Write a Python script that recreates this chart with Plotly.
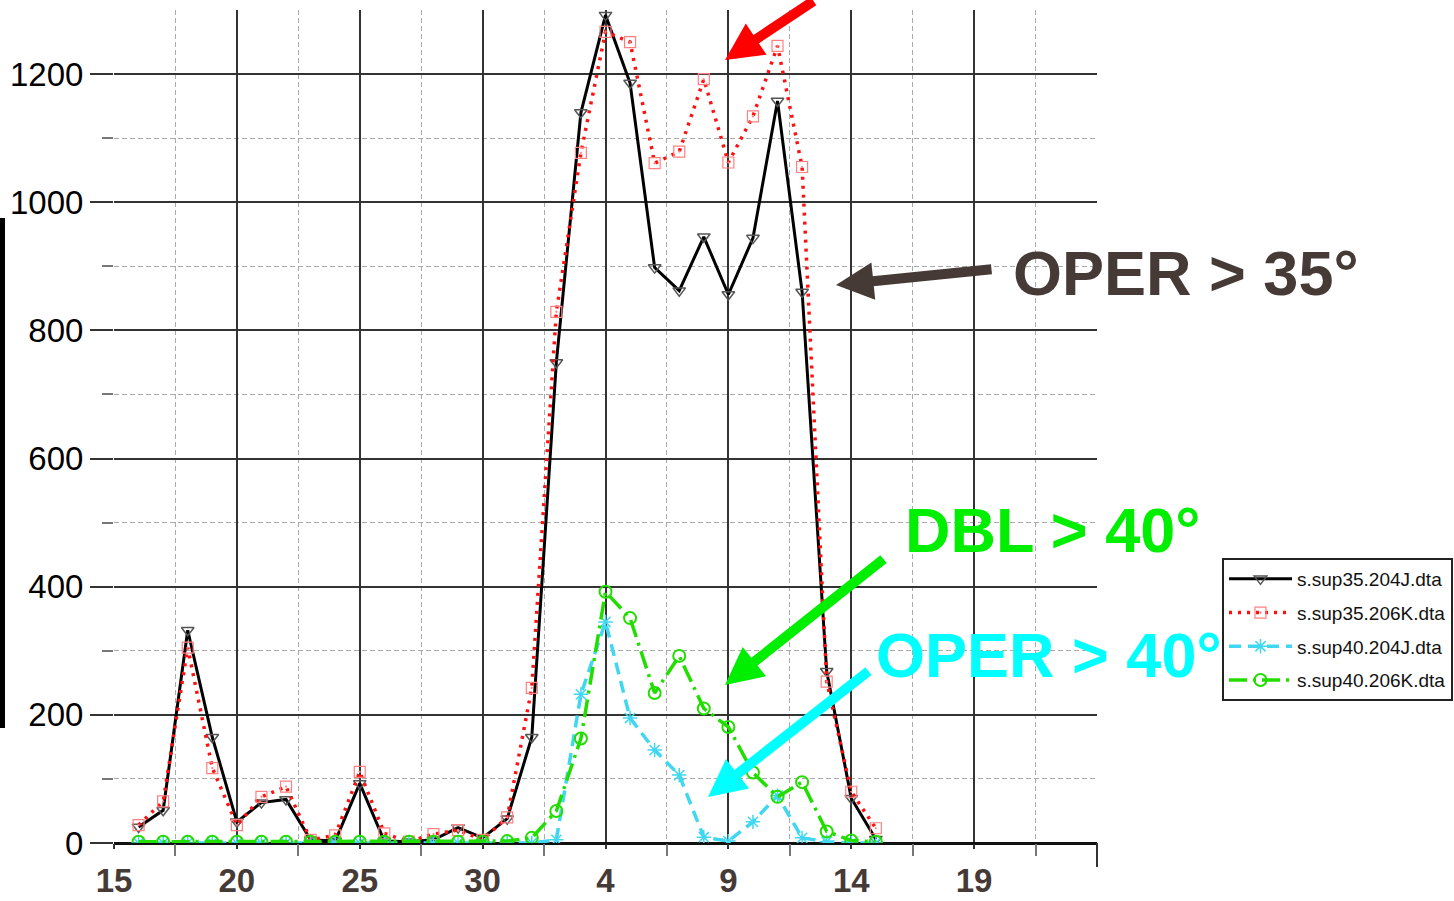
import plotly.graph_objects as go

# ---------------- data ----------------
days = list(range(16, 47))  # continuous day index (32 = 1st of next month)

sup35_204J = [25, 51, 332, 165, 33, 63, 68, 5, 3, 93, 3, 2, 5, 24, 8, 38,
              165, 750, 1140, 1292, 1186, 898, 862, 946, 856, 944, 1158, 860, 268, 70, 6]
sup35_206K = [28, 65, 305, 117, 28, 72, 88, 5, 12, 111, 15, 2, 14, 20, 5, 40,
              242, 829, 1077, 1266, 1250, 1061, 1079, 1192, 1062, 1134, 1244, 1055, 252, 80, 23]
sup40_204J = [0, 0, 0, 0, 0, 0, 0, 0, 0, 0, 0, 0, 0, 0, 0, 0,
              0, 5, 232, 345, 195, 145, 106, 9, 3, 33, 74, 8, 2, 0, 0]
sup40_206K = [2, 2, 2, 2, 2, 2, 2, 2, 2, 2, 2, 2, 2, 2, 2, 3,
              8, 50, 163, 392, 351, 234, 292, 210, 181, 110, 72, 95, 18, 4, 2]

x_tickvals = [15, 20, 25, 30, 35, 40, 45, 50, 55]
x_ticktext = ["15", "20", "25", "30", "4", "9", "14", "19", ""]
x_minorvals = [17.5, 22.5, 27.5, 32.5, 37.5, 42.5, 47.5, 52.5]
y_tickvals = [0, 200, 400, 600, 800, 1000, 1200]
y_minorvals = [100, 300, 500, 700, 900, 1100]

names = ["s.sup35.204J.dta", "s.sup35.206K.dta", "s.sup40.204J.dta", "s.sup40.206K.dta"]

# ---------------- layout helpers ----------------
W, H = 1454, 901
L, R, T, B = 114, 1097, 10, 843   # plot area in pixels


def X(px):
    return (px - L) / (R - L)


def Y(py):
    return (B - py) / (B - T)


FONT = "Liberation Sans, Arial, Helvetica, sans-serif"

fig = go.Figure()

fig.add_trace(go.Scatter(
    x=days, y=sup35_204J, name=names[0], mode="lines+markers", legendgroup="a",
    line=dict(color="black", width=3),
    marker=dict(symbol="triangle-down-open", size=11, color="#555555", line=dict(width=1.5)),
))
fig.add_trace(go.Scatter(
    x=days, y=sup35_206K, name=names[1], mode="lines+markers", legendgroup="b",
    line=dict(color="#ff1010", width=3.5, dash="3px,6px"),
    marker=dict(symbol="square-open-dot", size=11, color="#ff8080", line=dict(width=1.2)),
))
fig.add_trace(go.Scatter(
    x=days, y=sup40_204J, name=names[2], mode="lines+markers", legendgroup="c",
    line=dict(color="#40d8f0", width=3.5, dash="12px,7px"),
    marker=dict(symbol="asterisk-open", size=12, color="#40d8f0", line=dict(width=1.5)),
))
fig.add_trace(go.Scatter(
    x=days, y=sup40_206K, name=names[3], mode="lines+markers", legendgroup="d",
    line=dict(color="#22dd00", width=3.5, dash="18px,6px,3px,6px"),
    marker=dict(symbol="circle-open", size=12, color="#22dd00", line=dict(width=2)),
))

annotations = []
# text labels
labels = [
    ("OPER > 35°", 1011, 273, "#463a37"),
    ("DBL > 40°", 903, 530, "#00ee00"),
    ("OPER > 40°", 874, 655, "#00ffff"),
]
for txt, px, py, col in labels:
    annotations.append(dict(
        text=txt, x=X(px), y=Y(py), xref="paper", yref="paper",
        xanchor="left", yanchor="middle", showarrow=False,
        font=dict(family=FONT, size=63, color=col, weight="bold"),
    ))
# arrows (tip, tail, colour)
arrows = [
    ((725, 60), (815, -8), "#ff0000"),
    ((836, 285), (993, 269), "#463a37"),
    ((725, 685), (885, 558), "#00ee00"),
    ((708, 797), (870, 670), "#00ffff"),
]
for (tx, ty), (sx, sy), col in arrows:
    annotations.append(dict(
        text="", x=X(tx), y=Y(ty), xref="paper", yref="paper",
        ax=sx - tx, ay=sy - ty, showarrow=True,
        arrowhead=2, arrowwidth=10, arrowsize=0.75, arrowcolor=col, standoff=0,
    ))

shapes = [
    dict(type="rect", xref="paper", yref="paper", x0=X(0), x1=X(5), y0=Y(728), y1=Y(218),
         fillcolor="black", line=dict(width=0)),
    dict(type="line", xref="paper", yref="paper", x0=1, x1=1, y0=0, y1=Y(867),
         line=dict(color="#333333", width=2)),
]

fig.update_layout(
    width=W, height=H,
    margin=dict(l=L, r=W - R, t=T, b=H - B, pad=0, autoexpand=False),
    paper_bgcolor="white", plot_bgcolor="white",
    font=dict(family=FONT, color="black"),
    showlegend=True,
    legend=dict(
        x=X(1222), y=Y(558), xanchor="left", yanchor="top",
        bgcolor="white", bordercolor="#222222", borderwidth=2,
        font=dict(family=FONT, size=19, color="#111111"),
        itemwidth=63, tracegroupgap=6,
    ),
    annotations=annotations,
    shapes=shapes,
    xaxis=dict(
        range=[15, 55], tickmode="array", tickvals=x_tickvals, ticktext=x_ticktext,
        showgrid=True, gridcolor="#333333", gridwidth=2,
        ticks="outside", ticklen=5, tickwidth=2, tickcolor="#333333",
        zeroline=False, showline=False, automargin=False,
        tickfont=dict(family=FONT, size=33, color="#463a37", weight="bold"),
        ticklabelstandoff=3,
        minor=dict(tickmode="array", tickvals=x_minorvals, showgrid=True,
                   gridcolor="#aaaaaa", gridwidth=1, griddash="5px,3px",
                   ticks="outside", ticklen=12, tickwidth=2, tickcolor="#777777"),
    ),
    yaxis=dict(
        range=[0, 1300], tickmode="array", tickvals=y_tickvals,
        showgrid=True, gridcolor="#333333", gridwidth=2,
        ticks="outside", ticklen=23, tickwidth=2, tickcolor="#333333",
        zeroline=True, zerolinecolor="#111111", zerolinewidth=3,
        showline=False, automargin=False,
        tickfont=dict(family=FONT, size=33, color="black"),
        ticklabelstandoff=0,
        minor=dict(tickmode="array", tickvals=y_minorvals, showgrid=True,
                   gridcolor="#aaaaaa", gridwidth=1, griddash="5px,3px",
                   ticks="outside", ticklen=11, tickwidth=2, tickcolor="#777777"),
    ),
)

fig.write_html("out.html")
